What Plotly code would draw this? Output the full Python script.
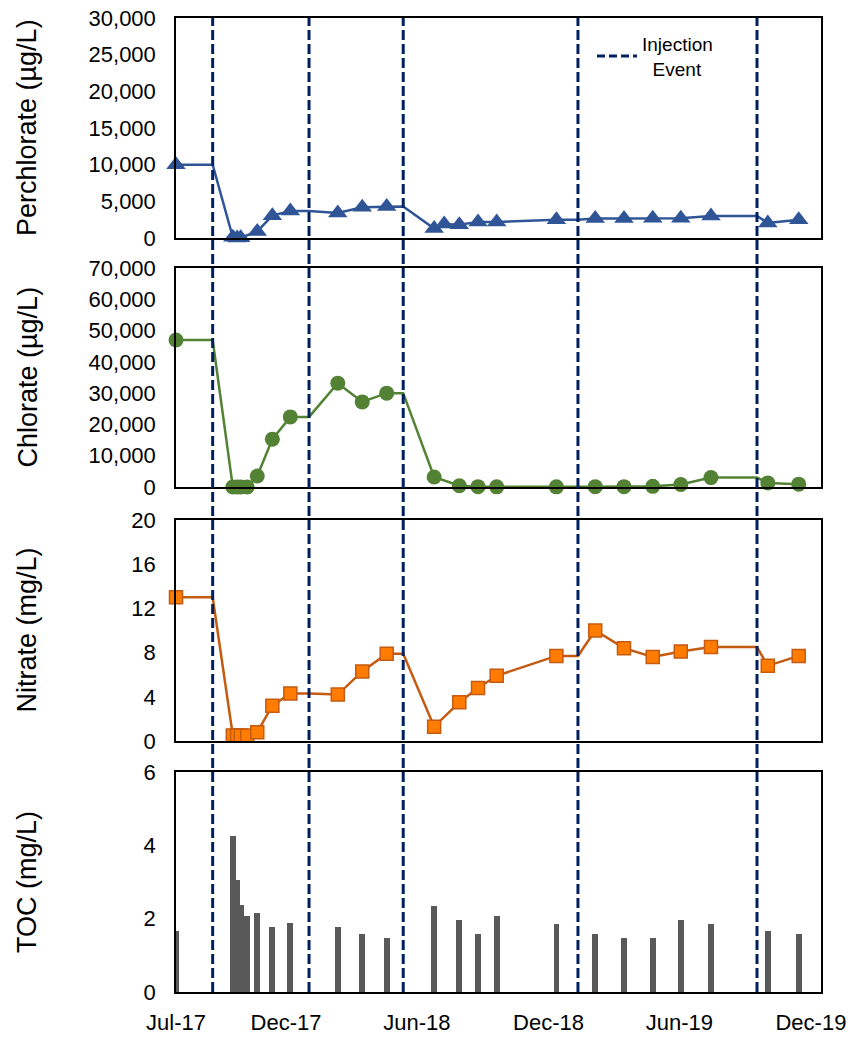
import plotly.graph_objects as go
from plotly.subplots import make_subplots

# ---------------- data ----------------
injection_dates = ["2017-08-21", "2018-01-02", "2018-05-13", "2019-01-11", "2019-09-17"]

perc_dates = ["2017-07-01", "2017-09-18", "2017-09-24", "2017-09-29", "2017-10-22", "2017-11-12",
              "2017-12-07", "2018-02-11", "2018-03-17", "2018-04-20", "2018-06-25", "2018-07-09",
              "2018-07-30", "2018-08-25", "2018-09-20", "2018-12-12", "2019-02-04", "2019-03-16",
              "2019-04-25", "2019-06-03", "2019-07-15", "2019-10-02", "2019-11-14"]
perchlorate = [10000, 100, 0, 50, 900, 3050, 3700, 3400, 4200, 4300, 1300, 1900,
               1800, 2200, 2200, 2500, 2650, 2650, 2700, 2700, 3000, 2050, 2500]

sample_dates = ["2017-07-01", "2017-09-18", "2017-09-24", "2017-09-29", "2017-10-08", "2017-10-22",
                "2017-11-12", "2017-12-07", "2018-02-11", "2018-03-17", "2018-04-20", "2018-06-25",
                "2018-07-30", "2018-08-25", "2018-09-20", "2018-12-12", "2019-02-04", "2019-03-16",
                "2019-04-25", "2019-06-03", "2019-07-15", "2019-10-02", "2019-11-14"]
chlorate = [47000, 0, 0, 0, 0, 3500, 15300, 22400, 33200, 27200, 30000, 3200,
            400, 100, 50, 50, 100, 100, 200, 800, 3000, 1300, 900]
nitrate = [13.0, 0.5, 0.5, 0.5, 0.5, 0.8, 3.2, 4.3, 4.2, 6.3, 7.9, 1.3,
           3.5, 4.8, 5.9, 7.7, 10.0, 8.4, 7.6, 8.1, 8.5, 6.8, 7.7]
toc = [1.66, 4.25, 3.05, 2.37, 2.07, 2.15, 1.77, 1.88, 1.77, 1.58, 1.47, 2.35,
       1.96, 1.58, 2.07, 1.85, 1.58, 1.47, 1.47, 1.96, 1.85, 1.66, 1.58]

tick_vals = ["2017-07-01", "2017-12-01", "2018-06-01", "2018-12-01", "2019-06-01", "2019-12-01"]
tick_text = ["Jul-17", "Dec-17", "Jun-18", "Dec-18", "Jun-19", "Dec-19"]
x_range = ["2017-07-01", "2019-12-15"]


def with_holds(dates, vals, events):
    """Line path: each value is carried forward to the next injection event."""
    pts = list(zip(dates, vals))
    for ev in events:
        prev = [v for d, v in zip(dates, vals) if d < ev]
        if prev:
            pts.append((ev, prev[-1]))
    pts.sort(key=lambda p: p[0])
    return [p[0] for p in pts], [p[1] for p in pts]


# ---------------- styling ----------------
FONT = "Liberation Sans, Arial, sans-serif"
TICK_SIZE = 22
TITLE_SIZE = 27
INJ_COLOR = "#002060"
BLUE = "#2F5597"
GREEN = "#548235"
ORANGE_LINE = "#C55A11"
ORANGE_FILL = "#FF7C00"
GREY = "#595959"

fig = make_subplots(rows=4, cols=1, shared_xaxes=False, vertical_spacing=0.03)

# Perchlorate
lx, ly = with_holds(perc_dates, perchlorate, injection_dates)
fig.add_trace(go.Scatter(x=lx, y=ly, mode="lines", line=dict(color=BLUE, width=2.5),
                         showlegend=False, hoverinfo="skip", cliponaxis=False), row=1, col=1)
fig.add_trace(go.Scatter(x=perc_dates, y=perchlorate, mode="markers", name="Perchlorate",
                         marker=dict(symbol="triangle-up", size=17, color=BLUE),
                         showlegend=False, cliponaxis=False), row=1, col=1)

# Chlorate
lx, ly = with_holds(sample_dates, chlorate, injection_dates)
fig.add_trace(go.Scatter(x=lx, y=ly, mode="lines", line=dict(color=GREEN, width=2.5),
                         showlegend=False, hoverinfo="skip", cliponaxis=False), row=2, col=1)
fig.add_trace(go.Scatter(x=sample_dates, y=chlorate, mode="markers", name="Chlorate",
                         marker=dict(symbol="circle", size=15, color=GREEN),
                         showlegend=False, cliponaxis=False), row=2, col=1)

# Nitrate
lx, ly = with_holds(sample_dates, nitrate, injection_dates)
fig.add_trace(go.Scatter(x=lx, y=ly, mode="lines", line=dict(color=ORANGE_LINE, width=2.5),
                         showlegend=False, hoverinfo="skip", cliponaxis=False), row=3, col=1)
fig.add_trace(go.Scatter(x=sample_dates, y=nitrate, mode="markers", name="Nitrate",
                         marker=dict(symbol="square", size=13, color=ORANGE_FILL,
                                     line=dict(color=ORANGE_LINE, width=1.5)),
                         showlegend=False, cliponaxis=False), row=3, col=1)

# TOC
fig.add_trace(go.Bar(x=sample_dates, y=toc, name="TOC", marker=dict(color=GREY, line=dict(width=0)),
                     width=8 * 86400000, showlegend=False, cliponaxis=False), row=4, col=1)

# Legend entry for injection events
fig.add_trace(go.Scatter(x=[None], y=[None], mode="lines", name="Injection<br>\u00a0\u00a0Event",
                         line=dict(color=INJ_COLOR, width=3, dash="8px,4px"),
                         showlegend=True), row=1, col=1)

# Injection event vertical lines spanning all panels
for d in injection_dates:
    fig.add_shape(type="line", xref="x4", yref="paper", x0=d, x1=d, y0=0, y1=1,
                  line=dict(color=INJ_COLOR, width=3, dash="10px,4px"), layer="above")

domains = {1: [0.7741, 1.0], 2: [0.5185, 0.7433], 3: [0.2577, 0.4846], 4: [0.0, 0.2259]}
yranges = {1: [0, 30000], 2: [0, 70000], 3: [0, 20], 4: [0, 6]}
ydticks = {1: 5000, 2: 10000, 3: 4, 4: 2}

for r in range(1, 5):
    fig.update_yaxes(row=r, col=1, domain=domains[r], range=yranges[r], dtick=ydticks[r],
                     tickformat=",", showgrid=False, zeroline=False, showline=True, mirror=True,
                     linecolor="black", linewidth=1.5, ticks="", ticklabelstandoff=14,
                     automargin=False, ticklabeloverflow="allow",
                     tickfont=dict(family=FONT, size=TICK_SIZE, color="black"))
    fig.update_xaxes(row=r, col=1, type="date", range=x_range, tickvals=tick_vals, ticktext=tick_text,
                     showgrid=False, zeroline=False, showline=True, mirror=True,
                     linecolor="black", linewidth=1.5, ticks="", ticklabelstandoff=10,
                     showticklabels=(r == 4), automargin=False, ticklabeloverflow="allow",
                     tickfont=dict(family=FONT, size=TICK_SIZE, color="black"))

# y-axis titles placed at a common horizontal position
titles = {1: "Perchlorate (µg/L)", 2: "Chlorate (µg/L)", 3: "Nitrate (mg/L)", 4: "TOC (mg/L)"}
for r, t in titles.items():
    fig.add_annotation(text=t, xref="paper", yref="paper", x=-0.231,
                       y=(domains[r][0] + domains[r][1]) / 2, textangle=-90, showarrow=False,
                       xanchor="center", yanchor="middle",
                       font=dict(family=FONT, size=TITLE_SIZE, color="black"))

fig.update_layout(
    width=848, height=1037,
    margin=dict(l=176, r=27, t=18, b=45),
    paper_bgcolor="white", plot_bgcolor="white",
    bargap=0,
    legend=dict(x=0.645, y=0.993, xanchor="left", yanchor="top", bgcolor="rgba(0,0,0,0)",
                font=dict(family=FONT, size=19, color="black"), itemwidth=40,
                tracegroupgap=0),
    showlegend=True,
)

# remove the browser's default 8px body margin so the figure fills the window exactly
fig.write_html("out.html", config={"displayModeBar": False},
               post_script="document.body.style.margin='0';document.body.style.overflow='hidden';")
